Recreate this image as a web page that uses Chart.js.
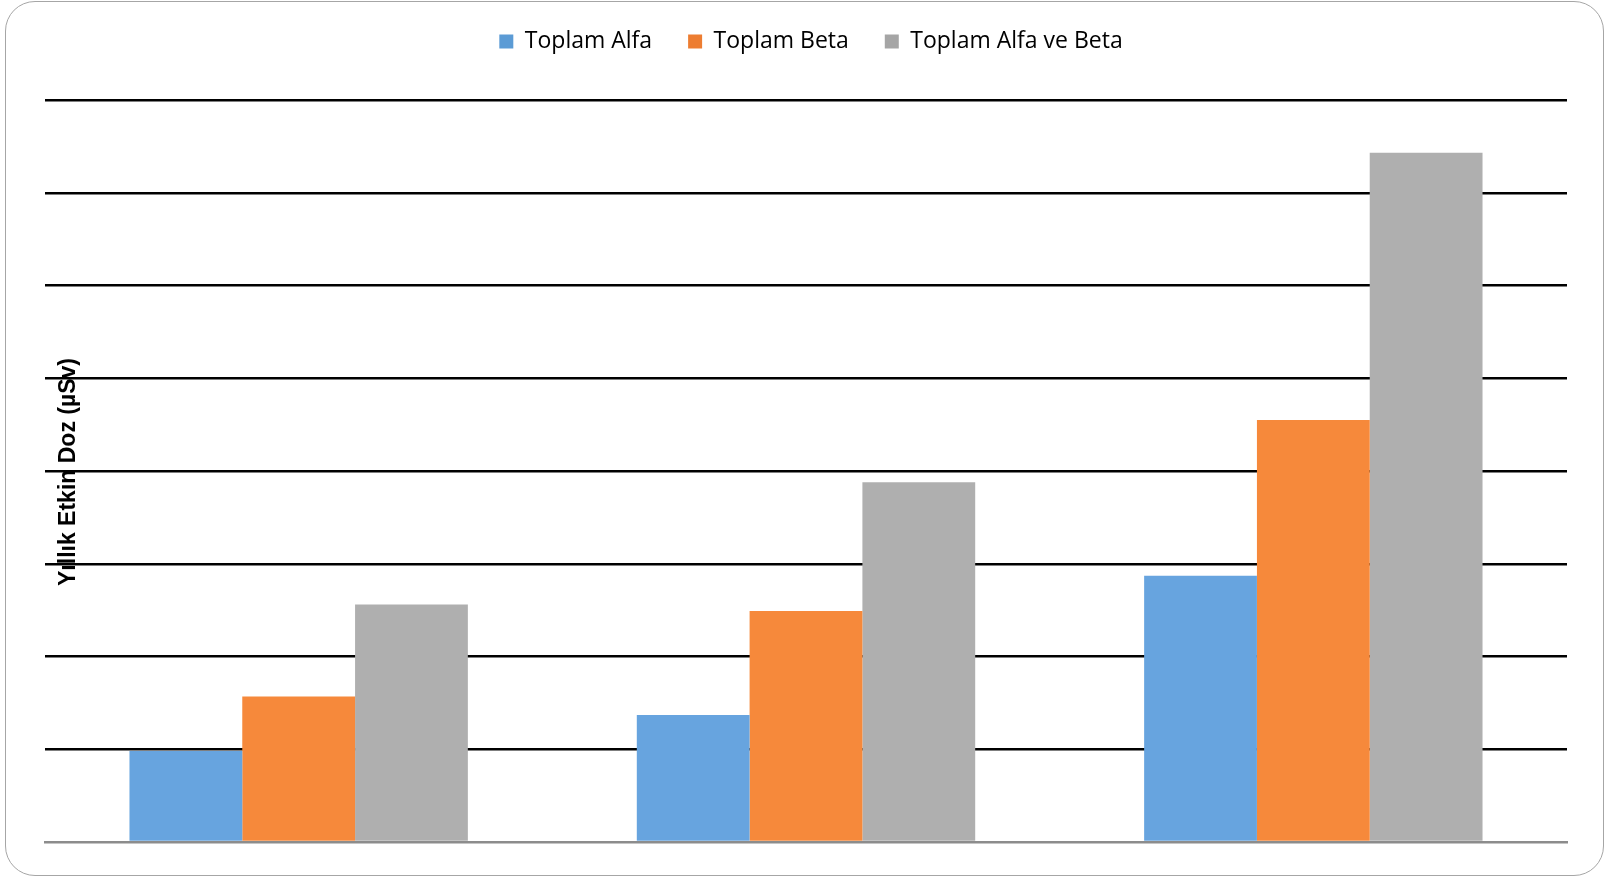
<!DOCTYPE html>
<html lang="tr">
<head>
<meta charset="utf-8">
<title>Yıllık Etkin Doz</title>
<script src="https://cdn.jsdelivr.net/npm/chart.js@4/dist/chart.umd.min.js"></script>
<style>
  html, body { margin: 0; padding: 0; background: #fff; }
  #wrap { position: relative; width: 1606px; height: 878px; }
  #frame {
    position: absolute; left: 5px; top: 1px; width: 1597px; height: 873px;
    border: 1.5px solid #a6a6a6; border-radius: 30px; pointer-events: none;
  }
  canvas { position: absolute; left: 0; top: 0; }
</style>
</head>
<body>
<div id="wrap">
  <div id="frame"></div>
  <canvas id="dozChart" width="1606" height="878"></canvas>
</div>
<script>
// Kategoriler (etiketleri grafikte gösterilmiyor)
const gruplar = ['Grup 1', 'Grup 2', 'Grup 3'];

// Seri değerleri
const toplamAlfa = [0.98, 1.37, 2.87];
const toplamBeta = [1.57, 2.49, 4.55];
const toplamAlfaBeta = [2.56, 3.88, 7.43];

// Y ekseni aralığı
const yMin = 0;
const yMax = 8;
const yAdim = 1;

const eksenBasligi = 'Yıllık Etkin Doz (µSv)';

// Lejant kutuları biraz daha koyu renkte
const lejantRenkleri = ['#5b9bd5', '#ed7d31', '#a5a5a5'];

// Lejant ile çizim alanı arasına ek boşluk, lejantı biraz sağa kaydır
const lejantBosluguPlugin = {
    id: 'lejantBoslugu',
    beforeInit(chart) {
        const legend = chart.legend;
        if (!legend) return;
        const eskiFit = legend.fit;
        legend.fit = function () {
            eskiFit.call(this);
            this.height += 37;
        };
    },
    afterLayout(chart) {
        const legend = chart.legend;
        if (!legend) return;
        legend.left += 5;
        legend.right += 5;
    }
};

// Y ekseni başlığı çizim alanının üzerine yazılıyor
const eksenBasligiPlugin = {
    id: 'eksenBasligi',
    afterDraw(chart) {
        const ctx = chart.ctx;
        const area = chart.chartArea;
        ctx.save();
        ctx.translate(69, (area.top + area.bottom) / 2 + 1);
        ctx.rotate(-Math.PI / 2);
        ctx.font = 'bold 23px "Liberation Sans", Arial, sans-serif';
        ctx.fillStyle = '#000';
        ctx.textAlign = 'center';
        ctx.textBaseline = 'middle';
        ctx.fillText(eksenBasligi, 0, 0);
        ctx.restore();
    }
};

const ctx = document.getElementById('dozChart').getContext('2d');
new Chart(ctx, {
    type: 'bar',
    data: {
        labels: gruplar,
        datasets: [{
            label: 'Toplam Alfa',
            data: toplamAlfa,
            backgroundColor: '#67a4df'
        }, {
            label: 'Toplam Beta',
            data: toplamBeta,
            backgroundColor: '#f6893b'
        }, {
            label: 'Toplam Alfa ve Beta',
            data: toplamAlfaBeta,
            backgroundColor: '#afafaf'
        }]
    },
    options: {
        responsive: false,
        animation: false,
        devicePixelRatio: 1,
        categoryPercentage: 0.667,
        barPercentage: 1,
        layout: {
            padding: { left: 45, right: 39, top: -6, bottom: 36 }
        },
        plugins: {
            legend: {
                position: 'top',
                labels: {
                    boxWidth: 14,
                    boxHeight: 14,
                    padding: 36,
                    color: '#000',
                    font: { family: '"Open Sans", sans-serif', size: 23 },
                    generateLabels(chart) {
                        const items = Chart.defaults.plugins.legend.labels.generateLabels(chart);
                        items.forEach((it, i) => {
                            it.fillStyle = lejantRenkleri[i];
                            it.strokeStyle = lejantRenkleri[i];
                            it.lineWidth = 0;
                        });
                        return items;
                    }
                }
            },
            tooltip: { enabled: false }
        },
        scales: {
            x: {
                ticks: { display: false },
                grid: { display: false, drawTicks: false },
                border: { display: true, color: '#8c8c8c', width: 2.5 }
            },
            y: {
                min: yMin,
                max: yMax,
                ticks: { display: false, stepSize: yAdim },
                border: { display: false },
                grid: {
                    drawTicks: false,
                    lineWidth: 2.5,
                    color: (c) => (c.tick && c.tick.value === 0) ? 'rgba(0,0,0,0)' : '#000'
                }
            }
        }
    },
    plugins: [lejantBosluguPlugin, eksenBasligiPlugin]
});
</script>
</body>
</html>
